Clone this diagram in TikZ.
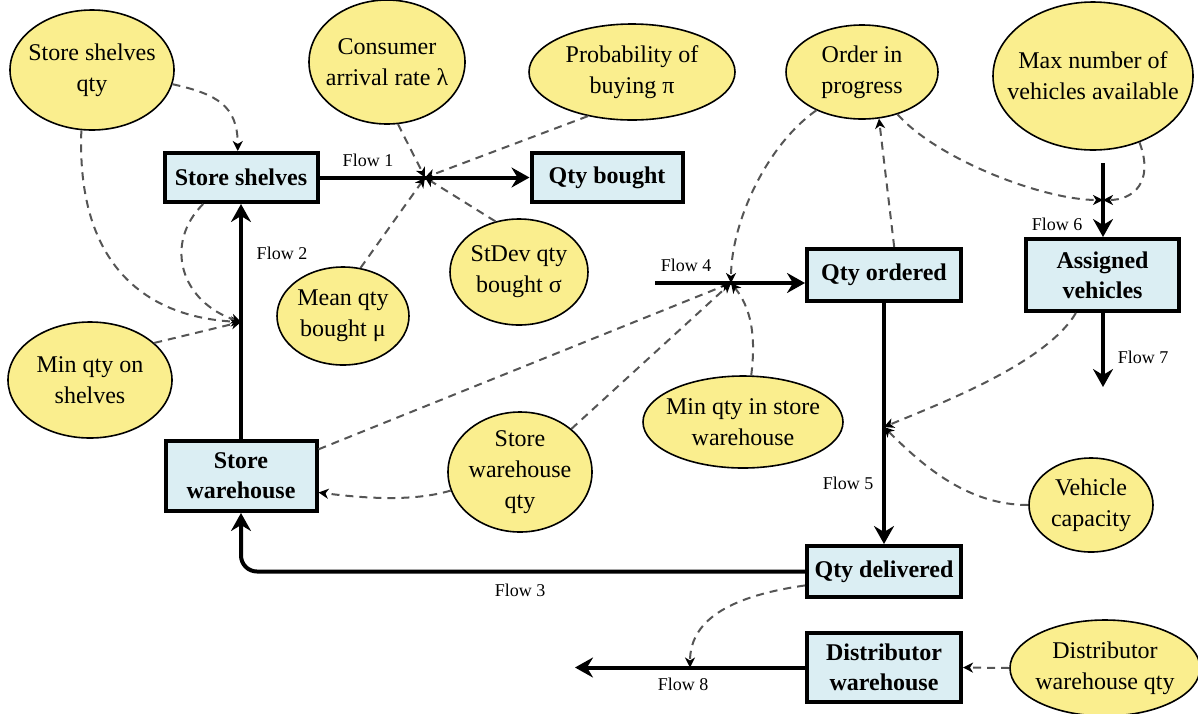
\documentclass[tikz,border=0pt]{standalone}
\usepackage{fontspec}
\setmainfont{Liberation Serif}
\usetikzlibrary{shapes.geometric,arrows.meta}

\definecolor{auxyellow}{RGB}{250,238,142}
\definecolor{stockblue}{RGB}{219,238,243}
\definecolor{linkgray}{RGB}{85,85,85}

\tikzstyle{stock} = [rectangle, draw=black, line width=2pt, fill=stockblue, align=center, inner sep=0pt, font=\fontsize{12}{15}\selectfont\bfseries]
\tikzstyle{aux} = [ellipse, draw=black, line width=0.8pt, fill=auxyellow, align=center, inner sep=-10pt, font=\fontsize{12}{15.5}\selectfont]
\tikzstyle{flow} = [line width=2pt, -{Stealth[length=9pt,width=10pt,inset=3pt]}]
\tikzstyle{link} = [linkgray, line width=1pt, dash pattern=on 4pt off 3pt, -{Stealth[length=5pt,width=5pt,inset=1.5pt,black]}]
\tikzstyle{flowlabel} = [inner sep=0pt, font=\fontsize{9}{11}\selectfont]

\begin{document}
\begin{tikzpicture}[x=0.5pt, y=-0.5pt]
      \useasboundingbox (0,0) rectangle (1198,713);
      % auxiliaries
      \node[aux, minimum width=82pt, minimum height=60pt] (ssq) at (92,70) {Store shelves\\qty};
      \node[aux, minimum width=78pt, minimum height=62pt] (car) at (387,62) {Consumer\\arrival rate λ};
      \node[aux, minimum width=103pt, minimum height=48pt] (pob) at (632,72) {Probability of\\buying π};
      \node[aux, minimum width=76pt, minimum height=47pt] (oip) at (862,72) {Order in\\progress};
      \node[aux, minimum width=100pt, minimum height=74pt] (mnv) at (1093,76) {Max number of\\vehicles available};
      \node[aux, minimum width=69pt, minimum height=53pt] (sdq) at (519,272) {StDev qty\\bought σ};
      \node[aux, minimum width=66pt, minimum height=49pt] (mqb) at (343,316) {Mean qty\\bought μ};
      \node[aux, minimum width=82pt, minimum height=58pt] (mqs) at (90,380) {Min qty on\\shelves};
      \node[aux, minimum width=72pt, minimum height=60pt] (swq) at (520,472) {Store\\warehouse\\qty};
      \node[aux, minimum width=100pt, minimum height=46pt] (mqw) at (743,422) {Min qty in store\\warehouse};
      \node[aux, minimum width=62pt, minimum height=47pt] (vc) at (1091,505) {Vehicle\\capacity};
      \node[aux, minimum width=95pt, minimum height=48pt] (dwq) at (1105,668) {Distributor\\warehouse qty};
      % stocks
      \node[stock, minimum width=76.5pt, minimum height=24.5pt] (shelves) at (241,177.5) {Store shelves};
      \node[stock, minimum width=75.5pt, minimum height=24.5pt] (bought) at (607,177.5) {Qty bought};
      \node[stock, minimum width=77pt, minimum height=26pt] (ordered) at (884,275) {Qty ordered};
      \node[stock, minimum width=76.5pt, minimum height=36pt] (assigned) at (1102.5,275) {Assigned\\vehicles};
      \node[stock, minimum width=75.5pt, minimum height=35pt] (swh) at (241,476) {Store\\warehouse};
      \node[stock, minimum width=77pt, minimum height=25.5pt] (delivered) at (884,571.5) {Qty delivered};
      \node[stock, minimum width=77pt, minimum height=34.5pt] (dw) at (884,667.5) {Distributor\\warehouse};
      % valves and loose ends
      \coordinate (j1) at (425,177.5);
      \coordinate (j2) at (241,322);
      \coordinate (f4s) at (655,283);
      \coordinate (j4) at (731,283);
      \coordinate (j5) at (884,427);
      \coordinate (f6s) at (1103,163);
      \coordinate (j6) at (1103,200);
      \coordinate (f7e) at (1103,387);
      \coordinate (j8) at (690,667.5);
      \coordinate (f8e) at (575,667.5);
      % flows
      \draw[flow] (shelves) -- (bought);
      \draw[flow] (swh) -- (shelves);
      \draw[flow, rounded corners=8pt] (delivered.west) -| (swh.south);
      \draw[flow] (f4s) -- (ordered.west |- f4s);
      \draw[flow] (ordered) -- (delivered);
      \draw[flow] (f6s) -- (assigned.north -| f6s);
      \draw[flow] (assigned.south -| f7e) -- (f7e);
      \draw[flow] (dw.west |- f8e) -- (f8e);
      \node[flowlabel] (fl1) at (368,160) {Flow 1};
      \node[flowlabel] (fl2) at (282,253) {Flow 2};
      \node[flowlabel] (fl3) at (520,590) {Flow 3};
      \node[flowlabel] (fl4) at (686,265) {Flow 4};
      \node[flowlabel] (fl5) at (848,483) {Flow 5};
      \node[flowlabel] (fl6) at (1057,224) {Flow 6};
      \node[flowlabel] (fl7) at (1143,357) {Flow 7};
      \node[flowlabel] (fl8) at (683,684) {Flow 8};
      % information links
      \draw[link] (ssq.-10) .. controls +(45,10) and +(0,-45) .. (shelves.97);
      \draw[link] (ssq.-100) .. controls +(-5,130) and +(-100,-5) .. (j2);
      \draw[link] (shelves.-145) .. controls +(-40,40) and +(-60,-20) .. (j2);
      \draw[link] (mqs.30) -- (j2);
      \draw[link] (car.-80) -- (j1);
      \draw[link] (pob.-135) -- (j1);
      \draw[link] (sdq.115) -- (j1);
      \draw[link] (mqb.70) -- (j1);
      \draw[link] (oip.-140) .. controls +(-50,35) and +(0,-60) .. (j4);
      \draw[link] (ordered.70) -- (oip.-70);
      \draw[link] (oip.-50) .. controls +(40,45) and +(-60,0) .. (j6);
      \draw[link] (mnv.-55) .. controls +(15,40) and +(30,0) .. (j6);
      \draw[link] (swh.19) -- (j4);
      \draw[link] (swq.40) -- (j4);
      \draw[link] (mqw.80) .. controls +(5,-40) and +(20,25) .. (j4);
      \draw[link] (swq.-165) .. controls +(-40,12) and +(40,5) .. (swh.-12);
      \draw[link] (assigned.-125) .. controls +(-30,50) and +(60,-25) .. (j5);
      \draw[link] (vc.180) .. controls +(-60,0) and +(40,40) .. (j5);
      \draw[link] (delivered.-170) .. controls +(-70,10) and +(0,-50) .. (j8);
      \draw[link] (dwq.west) -- (dw.east);
    \end{tikzpicture}
\end{document}
